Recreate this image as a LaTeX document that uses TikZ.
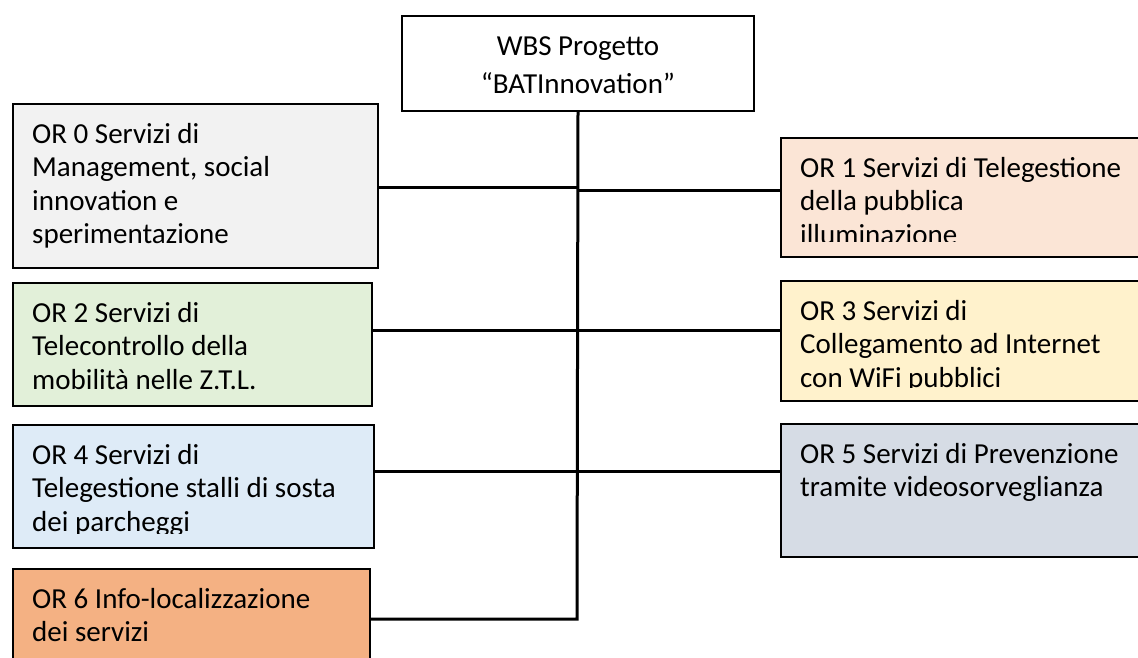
\documentclass[tikz,border=0pt]{standalone}
\usepackage{fontspec}
\setmainfont{Carlito}
\definecolor{orgray}{HTML}{F2F2F2}
\definecolor{orpeach}{HTML}{FBE5D6}
\definecolor{orgreen}{HTML}{E2F0D9}
\definecolor{oryellow}{HTML}{FFF2CC}
\definecolor{orblue}{HTML}{DEEBF7}
\definecolor{orslate}{HTML}{D6DCE5}
\definecolor{ororange}{HTML}{F4B183}
\newcommand{\orlines}[2][l]{\begin{tabular}[t]{@{}#1@{}}#2\end{tabular}}
\tikzset{
	orbox/.style={draw, line width=2pt, anchor=north west, inner sep=0pt},
	ortext/.style={anchor=base west, inner sep=0pt, font=\fontsize{29}{33.5}\selectfont},
	wbsline/.style={line width=3pt},
}

\begin{document}
\begin{tikzpicture}[x=1pt, y=-1pt]
	\clip (0,0) rectangle (1138,657);
	\node[orbox, fill=white, minimum width=352pt, minimum height=95pt] (wbs) at (401,15) {};
	\node[ortext, anchor=base, font=\fontsize{29}{38}\selectfont] (wbs-text) at ([yshift=-40pt]wbs.north) {\orlines[c]{WBS Progetto\\“BATInnovation”}};

	\node[orbox, fill=orgray, minimum width=365pt, minimum height=164pt] (or0) at (12,103) {};
	\node[orbox, fill=orpeach, minimum width=370pt, minimum height=119pt] (or1) at (780,137) {};
	\node[orbox, fill=orgreen, minimum width=359pt, minimum height=123pt] (or2) at (12,282) {};
	\node[orbox, fill=oryellow, minimum width=370pt, minimum height=120pt] (or3) at (780,280) {};
	\node[orbox, fill=orblue, minimum width=361pt, minimum height=123pt] (or4) at (12,424) {};
	\node[orbox, fill=orslate, minimum width=370pt, minimum height=133pt] (or5) at (780,423) {};
	\node[orbox, fill=ororange, minimum width=357pt, minimum height=120pt] (or6) at (12,568) {};

	% text is cut off at the bottom of the boxes
	\foreach \b/\c/\t in {or0/5/{OR 0 Servizi di\\Management, social\\innovation e\\sperimentazione},
		or1/17/{OR 1 Servizi di Telegestione\\della pubblica\\illuminazione},
		or2/5/{OR 2 Servizi di\\Telecontrollo della\\mobilità nelle Z.T.L.},
		or3/15/{OR 3 Servizi di\\Collegamento ad Internet\\con WiFi pubblici},
		or4/16/{OR 4 Servizi di\\Telegestione stalli di sosta\\dei parcheggi},
		or5/5/{OR 5 Servizi di Prevenzione\\tramite videosorveglianza},
		or6/5/{OR 6 Info-localizzazione\\dei servizi}} {
		\begin{scope}
			\clip (\b.north west) rectangle ([yshift=\c pt]\b.south east);
			\node[ortext] (\b-text) at ([xshift=20pt, yshift=-40pt]\b.north west) {\orlines{\t}};
		\end{scope}
	}

	\coordinate (j0) at (577,187);
	\coordinate (j1) at (577,190);
	\coordinate (j2) at (577,330);
	\coordinate (j4) at (577,471);
	\coordinate (j6) at (577,619);
	\draw[wbsline] (wbs.south) -- (j6) -- (or6.east |- j6);
	\draw[wbsline] (or0.east |- j0) -- (j0);
	\draw[wbsline] (j1) -- (or1.west |- j1);
	\draw[wbsline] (or2.east |- j2) -- (j2) -- (or3.west |- j2);
	\draw[wbsline] (or4.east |- j4) -- (j4) -- (or5.west |- j4);
\end{tikzpicture}
\end{document}
